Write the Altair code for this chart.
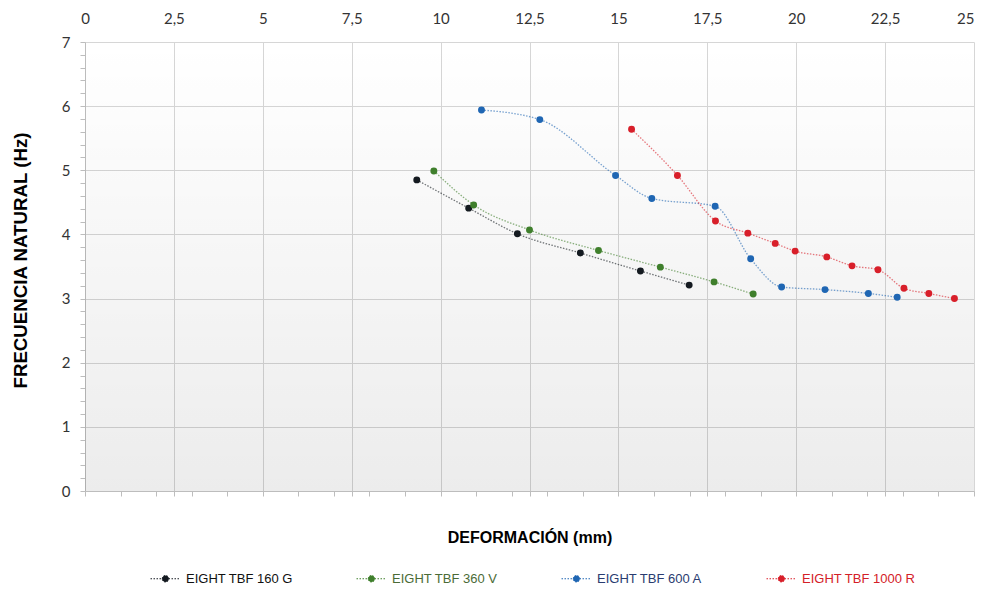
import altair as alt
import pandas as pd

series = ["EIGHT TBF 160 G", "EIGHT TBF 360 V", "EIGHT TBF 600 A", "EIGHT TBF 1000 R"]

x_160 = [9.33, 10.79, 12.16, 13.93, 15.62, 16.99]
y_160 = [4.85, 4.41, 4.01, 3.71, 3.43, 3.21]

x_360 = [9.81, 10.93, 12.50, 14.44, 16.18, 17.69, 18.79]
y_360 = [4.99, 4.46, 4.07, 3.75, 3.49, 3.26, 3.07]

x_600 = [11.15, 12.79, 14.92, 15.94, 17.72, 18.72, 19.59, 20.81, 22.03, 22.84]
y_600 = [5.94, 5.79, 4.92, 4.56, 4.44, 3.62, 3.18, 3.14, 3.08, 3.02]

x_1000 = [15.37, 16.66, 17.73, 18.64, 19.41, 19.97, 20.86, 21.57, 22.30, 23.03, 23.73, 24.45]
y_1000 = [5.64, 4.92, 4.21, 4.02, 3.86, 3.74, 3.65, 3.51, 3.45, 3.16, 3.08, 3.00]

point_colors = ["#141a20", "#3f7f2c", "#1f66b3", "#d81f2a"]
label_colors = ["#111111", "#4b6b36", "#2a3c70", "#d42027"]

x_major = [0, 2.5, 5, 7.5, 10, 12.5, 15, 17.5, 20, 22.5, 25]
x_minor = list(range(0, 26))
y_ticks = [round(i * 0.2, 1) for i in range(36)]

rows = []
for name, xs, ys in [(series[0], x_160, y_160), (series[1], x_360, y_360),
                     (series[2], x_600, y_600), (series[3], x_1000, y_1000)]:
    for i, (a, b) in enumerate(zip(xs, ys)):
        rows.append({"serie": name, "x": a, "y": b, "i": i})
df = pd.DataFrame(rows)

bg_df = pd.DataFrame({"x": [0], "x2": [25], "y": [0], "y2": [7]})

xscale = alt.Scale(domain=[0, 25], nice=False, zero=False)
yscale = alt.Scale(domain=[0, 7], nice=False, zero=False)

GRID = "#d6d6d6"
TICK = "#bdbdbd"

bottom_axis = alt.Axis(
    orient="bottom",
    values=sorted(set(x_minor) | set(x_major)),
    labels=False,
    tickSize=5,
    tickColor=TICK,
    domainColor=TICK,
    grid=True,
    gridColor=GRID,
    gridOpacity={"condition": {"test": "abs(datum.value/2.5 - round(datum.value/2.5)) < 0.001", "value": 1}, "value": 0},
    title="DEFORMACIÓN (mm)",
    titleFont="Liberation Sans",
    titleFontSize=16,
    titleFontWeight="bold",
    titleColor="#000000",
    titlePadding=33,
)

left_axis = alt.Axis(
    orient="left",
    values=y_ticks,
    tickSize=5,
    tickColor=TICK,
    domainColor=TICK,
    grid=True,
    gridColor=GRID,
    gridOpacity={"condition": {"test": "abs(datum.value - round(datum.value)) < 0.001", "value": 1}, "value": 0},
    labelExpr="abs(datum.value - round(datum.value)) < 0.001 ? format(datum.value, 'd') : ''",
    labelOverlap=False,
    labelFlush=False,
    labelFont="Lato",
    labelFontSize=15,
    labelColor="#333333",
    labelPadding=10,
    title="FRECUENCIA NATURAL (Hz)",
    titleFont="Liberation Sans",
    titleFontSize=18.7,
    titleFontWeight="bold",
    titleColor="#000000",
    titlePadding=31,
    titleY=218,
)

top_axis = alt.Axis(
    orient="top",
    values=x_major,
    labelExpr="replace(format(datum.value, '~g'), '.', ',')",
    labelFlush=False,
    labelAlign={"condition": {"test": "datum.value >= 25", "value": "right"}, "value": "center"},
    ticks=False,
    domain=False,
    grid=False,
    labelFont="Lato",
    labelFontSize=15,
    labelColor="#333333",
    labelPadding=16,
    title=None,
)

grad = alt.LinearGradient(
    gradient="linear",
    stops=[alt.GradientStop(color="rgba(0,0,0,0)", offset=0),
           alt.GradientStop(color="rgba(0,0,0,0.075)", offset=1)],
    x1=0, x2=0, y1=0, y2=1,
)

color_scale = alt.Scale(domain=series, range=point_colors)

label_expr = (
    f"datum.value == '{series[0]}' ? '{label_colors[0]}' : "
    f"datum.value == '{series[1]}' ? '{label_colors[1]}' : "
    f"datum.value == '{series[2]}' ? '{label_colors[2]}' : '{label_colors[3]}'"
)

legend = alt.Legend(
    title=None,
    orient="none",
    legendX=65,
    legendY=521,
    padding=0,
    direction="horizontal",
    symbolType="M-1,0H1M-0.22,0A0.22,0.22,0,1,1,0.22,0A0.22,0.22,0,1,1,-0.22,0Z",
    symbolSize=900,
    symbolStrokeWidth=1,
    symbolDash=[1.5, 1.5],
    symbolFillColor=alt.ExprRef("scale('color', datum.value)"),
    symbolOpacity=1,
    labelFont="Liberation Sans",
    labelFontSize=13,
    labelColor=alt.ExprRef(label_expr),
    labelOffset=5,
    columnPadding=61,
    labelLimit=300,
)

X = alt.X("x:Q", scale=xscale, axis=bottom_axis)
Y = alt.Y("y:Q", scale=yscale, axis=left_axis)

bg = alt.Chart(bg_df).mark_rect(color=grad).encode(x=X, x2="x2:Q", y=Y, y2="y2:Q")

lines = alt.Chart(df).mark_line(
    interpolate="monotone", strokeDash=[1.5, 1.5], strokeWidth=1.3, opacity=0.6
).encode(
    x=X, y=Y,
    color=alt.Color("serie:N", scale=color_scale, legend=legend),
    detail="serie:N",
    order="i:Q",
)

points = alt.Chart(df).mark_point(filled=True, size=48, opacity=1).encode(
    x=X, y=Y,
    fill=alt.Fill("serie:N", scale=alt.Scale(domain=series, range=point_colors), legend=None),
)

top = alt.Chart(bg_df).mark_point(opacity=0).encode(
    x=alt.X("x:Q", scale=xscale, axis=top_axis),
    y=Y,
)

main = alt.layer(bg, lines, points)

chart = alt.layer(main, top).resolve_axis(x="independent").properties(
    width=889,
    height=449,
    padding={"left": 77, "top": 34, "right": 1, "bottom": 94},
    autosize=alt.AutoSizeParams(type="none"),
    background="#ffffff",
).configure_view(stroke=None)

chart.save("out.html", embed_options={"renderer": "svg", "actions": False})
